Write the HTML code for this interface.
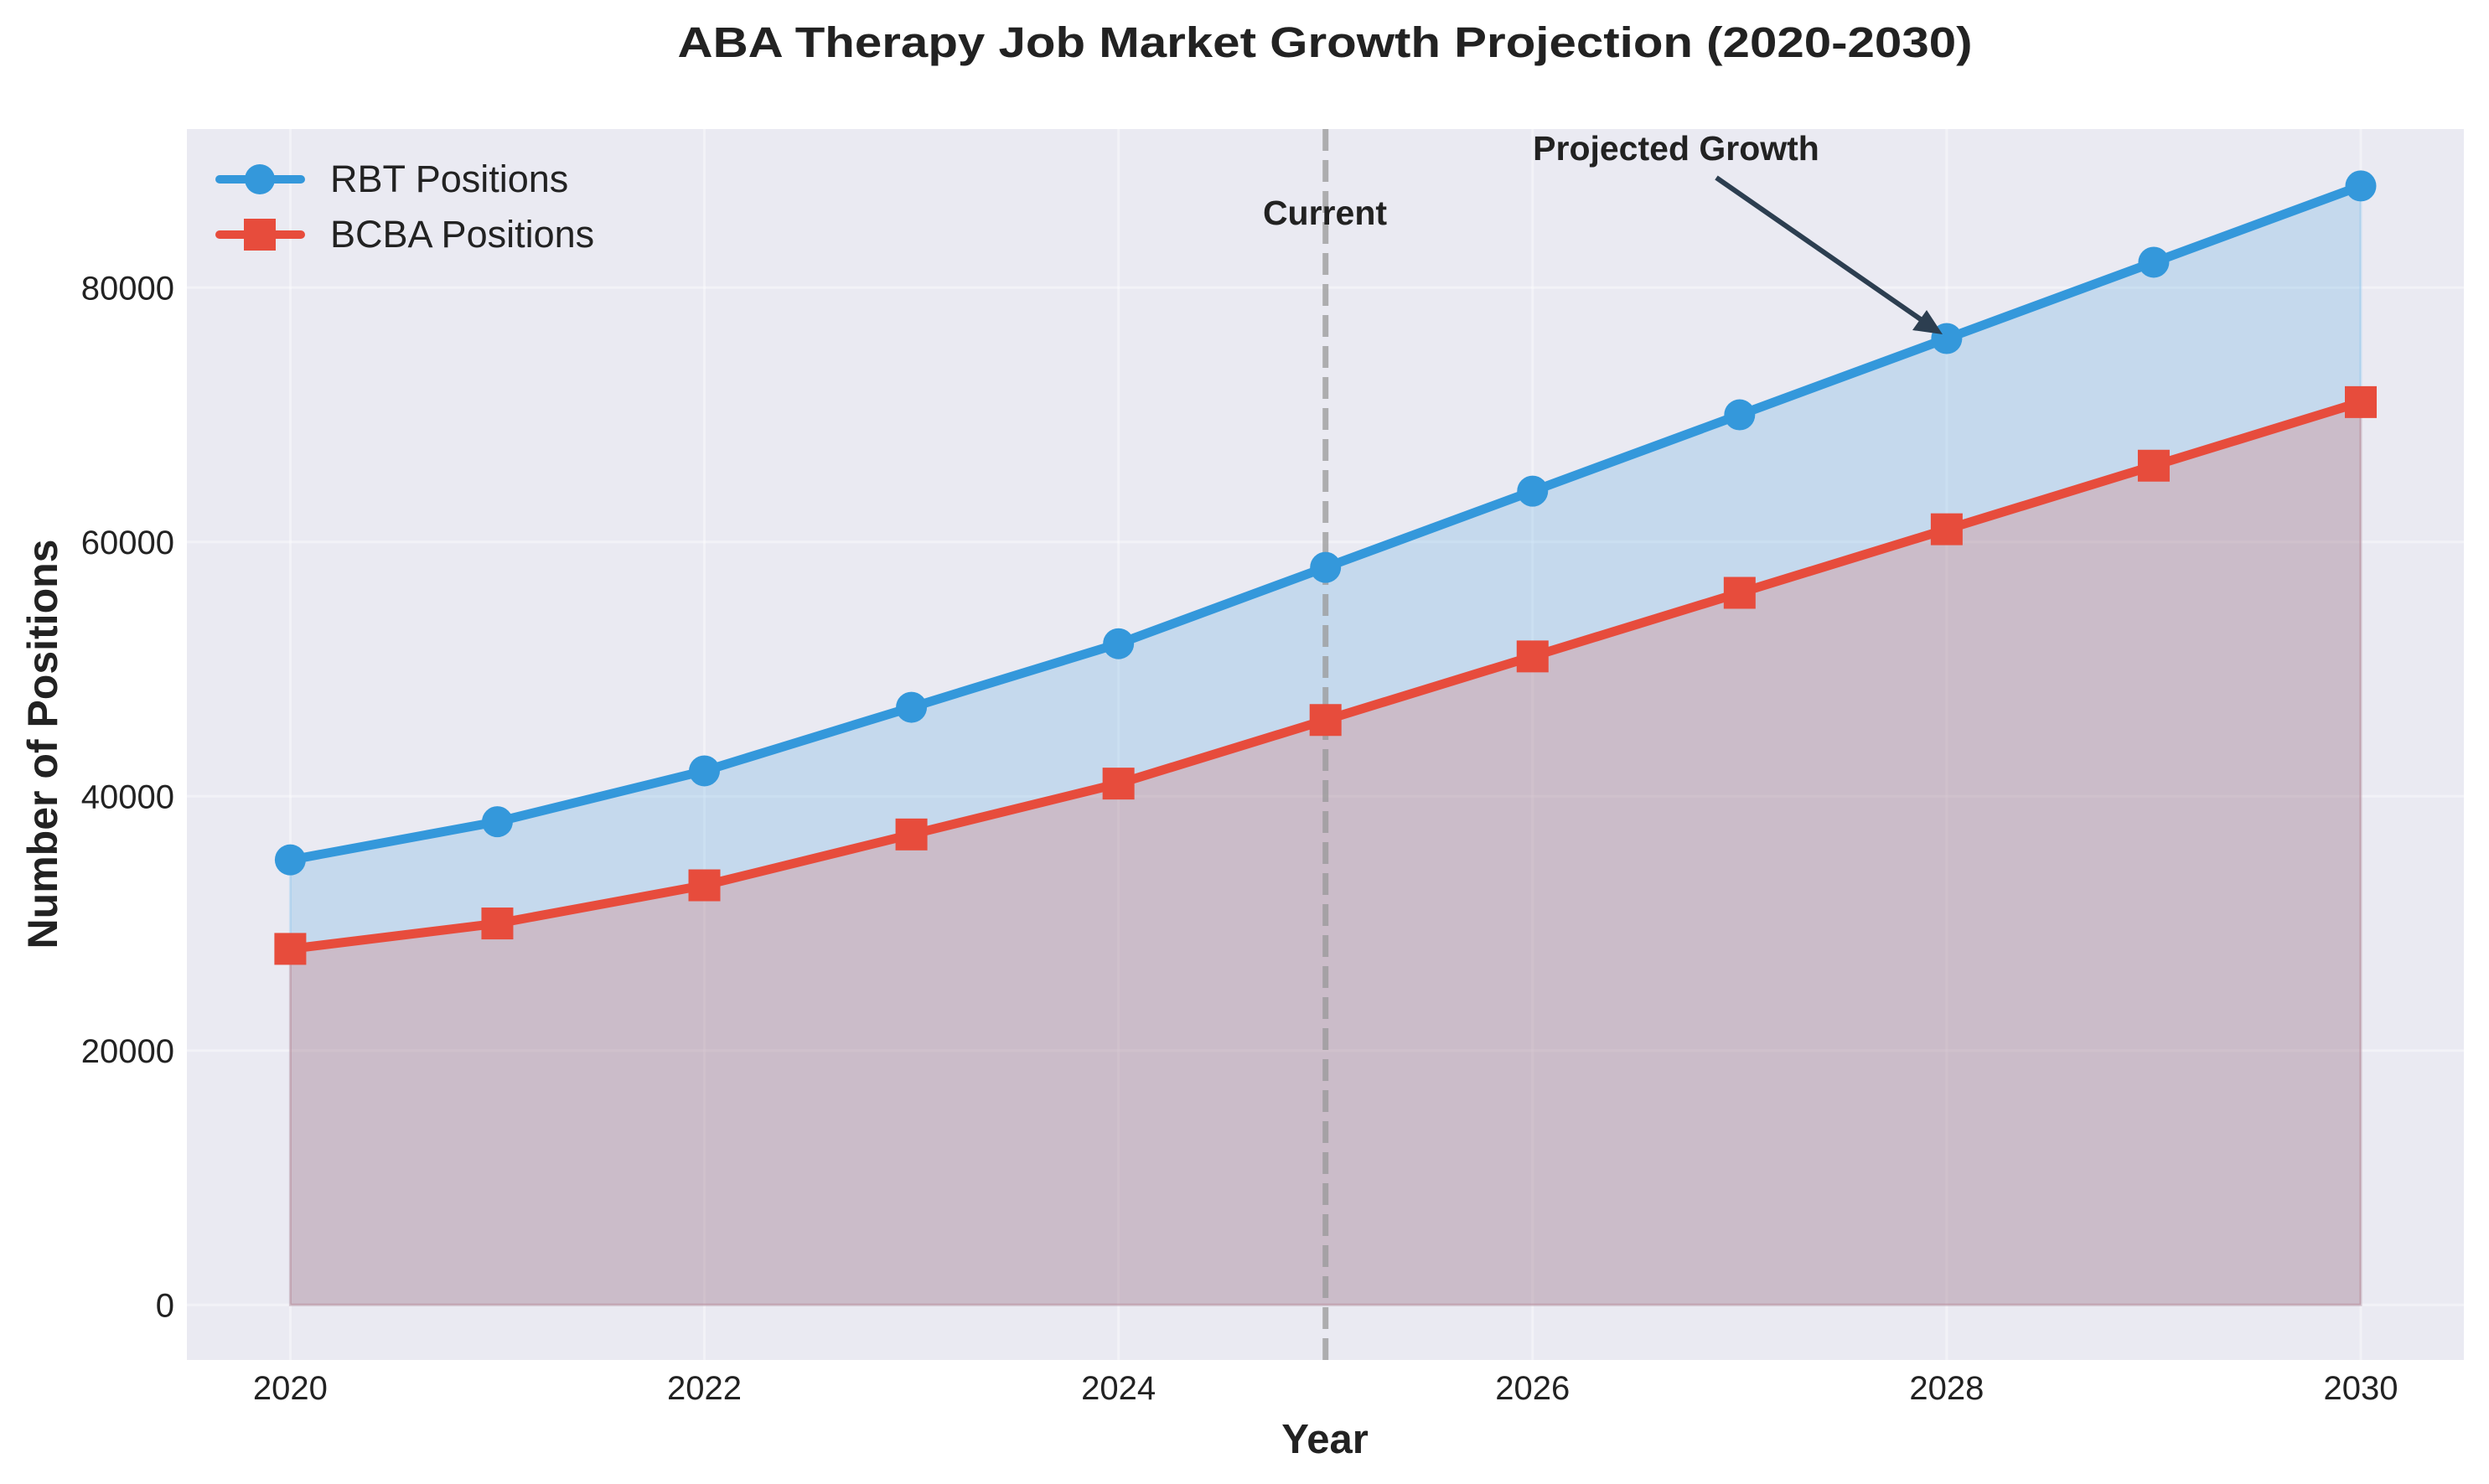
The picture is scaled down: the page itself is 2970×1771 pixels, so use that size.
<!DOCTYPE html>
<html><head><meta charset="utf-8"><style>
html,body{margin:0;padding:0;background:#fff;}
svg{display:block;font-family:"Liberation Sans",sans-serif;}
</style></head><body>
<svg id="chart" width="2970" height="1771" viewBox="0 0 2970 1771">
<rect x="223" y="154" width="2717" height="1469" fill="#eaeaf2"/>
<g id="grid"></g>
<g id="fills"></g>
<g id="vline"></g>
<g id="lines"></g>
<g id="ticks"></g>
<text x="1581" y="68" text-anchor="middle" font-weight="bold" font-size="51" fill="#222" textLength="1545" lengthAdjust="spacingAndGlyphs">ABA Therapy Job Market Growth Projection (2020-2030)</text>
<text x="1581" y="1734" text-anchor="middle" font-weight="bold" font-size="49" fill="#222">Year</text>
<text transform="translate(68,888) rotate(-90)" text-anchor="middle" font-weight="bold" font-size="50" fill="#222">Number of Positions</text>
<text x="1581" y="268" text-anchor="middle" font-weight="bold" font-size="41" fill="#222">Current</text>
<text x="2000" y="191" text-anchor="middle" font-weight="bold" font-size="41" fill="#222">Projected Growth</text>
<g id="arrow">
<line x1="2048" y1="212" x2="2296" y2="384" stroke="#2c3e50" stroke-width="6"/>
<polygon points="2318,399 2282,394 2299,370" fill="#2c3e50"/>
</g>
<g>
<g>
<line x1="262" y1="214" x2="359" y2="214" stroke="#3498db" stroke-width="10" stroke-linecap="round"/>
<circle cx="310" cy="214" r="18" fill="#3498db"/>
<text x="394" y="229" font-size="45" fill="#222">RBT Positions</text>
</g>
<g>
<line x1="262" y1="280" x2="359" y2="280" stroke="#e74c3c" stroke-width="10" stroke-linecap="round"/>
<rect x="291" y="261" width="38" height="38" fill="#e74c3c"/>
<text x="394" y="295" font-size="45" fill="#222">BCBA Positions</text>
</g>
</g>
</svg>
<script>
const years = [2020,2021,2022,2023,2024,2025,2026,2027,2028,2029,2030];
const rbtValues = [35000,38000,42000,47000,52000,58000,64000,70000,76000,82000,88000];
const bcbaValues = [28000,30000,33000,37000,41000,46000,51000,56000,61000,66000,71000];
const xTicks = [2020,2022,2024,2026,2028,2030];
const yTicks = [0,20000,40000,60000,80000];
const currentYear = 2025;

const NS = "http://www.w3.org/2000/svg";
const PL = 223, PR = 2940, PT = 154, PB = 1623;
function xs(v){ return 346.4 + (v - 2020) * (2817 - 346.4) / 10; }
function ys(v){ return 1557.3 - v * (1557.3 - 343.3) / 80000; }
function mk(tag, attrs, parent){
  const e = document.createElementNS(NS, tag);
  for (const k in attrs) e.setAttribute(k, attrs[k]);
  parent.appendChild(e); return e;
}
const grid = document.getElementById('grid');
const ticks = document.getElementById('ticks');
xTicks.forEach(t => {
  const l = mk('line', {x1:xs(t), x2:xs(t), y1:PT, y2:PB, stroke:'#ffffff', 'stroke-width':3, opacity:0.4}, grid);
  
  
  const tx = mk('text', {x:xs(t), y:1670, 'text-anchor':'middle', 'font-size':40, fill:'#222'}, ticks);
  tx.textContent = t;
  
  
});
yTicks.forEach(t => {
  const l = mk('line', {x1:PL, x2:PR, y1:ys(t), y2:ys(t), stroke:'#ffffff', 'stroke-width':3, opacity:0.4}, grid);
  
  
  const tx = mk('text', {x:208, y:ys(t)+14, 'text-anchor':'end', 'font-size':40, fill:'#222'}, ticks);
  tx.textContent = t;
  
  
});
const fills = document.getElementById('fills');
function area(vals, color, name){
  let d = 'M' + xs(years[0]) + ',' + ys(0);
  years.forEach((y,i) => { d += ' L' + xs(y) + ',' + ys(vals[i]); });
  d += ' L' + xs(years[years.length-1]) + ',' + ys(0) + ' Z';
  const p = mk('path', {d:d, fill:color, 'fill-opacity':0.2, stroke:color, 'stroke-opacity':0.2, 'stroke-width':3}, fills);
  
  
}
area(rbtValues, '#3498db', 'rbt-area');
area(bcbaValues, '#e74c3c', 'bcba-area');
const vl = mk('line', {x1:xs(currentYear), x2:xs(currentYear), y1:PT, y2:PB, stroke:'#999999', 'stroke-width':7, 'stroke-dasharray':'26,11', opacity:0.75}, document.getElementById('vline'));


const lines = document.getElementById('lines');
function series(vals, color, name, square){
  const pts = years.map((y,i) => xs(y) + ',' + ys(vals[i])).join(' ');
  const pl = mk('polyline', {points:pts, fill:'none', stroke:color, 'stroke-width':11, 'stroke-linejoin':'round', 'stroke-linecap':'round'}, lines);
  
  
  years.forEach((y,i) => {
    let m;
    if (square) m = mk('rect', {x:xs(y)-19, y:ys(vals[i])-19, width:38, height:38, fill:color}, lines);
    else m = mk('circle', {cx:xs(y), cy:ys(vals[i]), r:18.5, fill:color}, lines);
    
    
  });
}
series(rbtValues, '#3498db', 'rbt', false);
series(bcbaValues, '#e74c3c', 'bcba', true);
</script>
</body></html>
